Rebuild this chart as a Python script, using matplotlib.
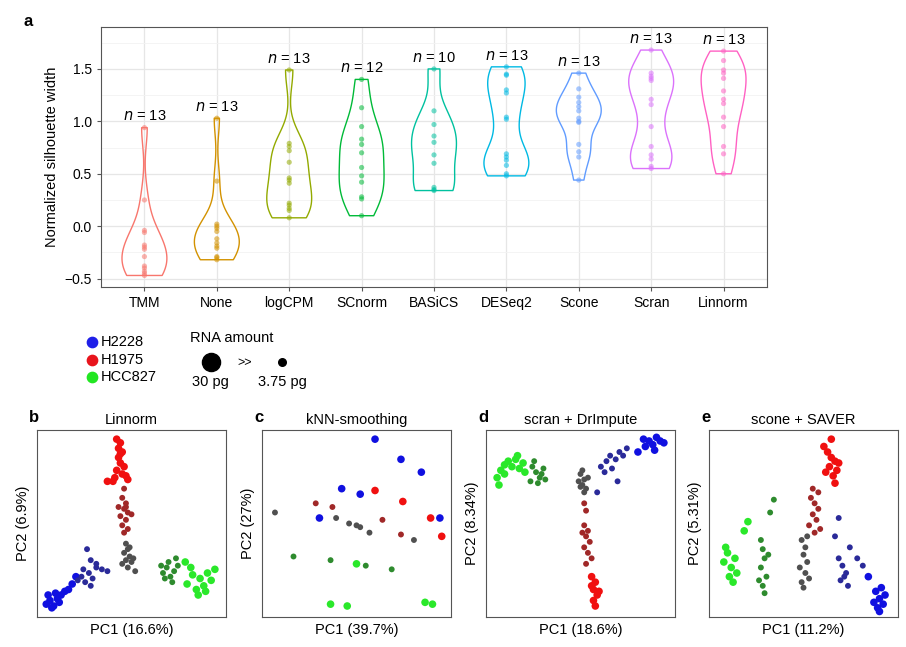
import matplotlib
matplotlib.use("Agg")
import matplotlib.pyplot as plt
import numpy as np

plt.rcParams['font.family'] = ['Liberation Sans', 'DejaVu Sans']

methods = ["TMM", "None", "logCPM", "SCnorm", "BASiCS", "DESeq2", "Scone", "Scran", "Linnorm"]
colors = ["#F8766D", "#D39200", "#93AA00", "#00BA38", "#00C19F", "#00B9E3", "#619CFF", "#DB72FB", "#FF61C3"]
values = [
    [0.94, 0.25, -0.04, -0.06, -0.18, -0.20, -0.22, -0.29, -0.38, -0.40, -0.45, -0.47, -0.43],
    [1.03, 0.43, 0.02, 0.00, -0.02, -0.05, -0.12, -0.16, -0.19, -0.21, -0.29, -0.30, -0.32],
    [1.49, 0.79, 0.76, 0.72, 0.61, 0.46, 0.44, 0.41, 0.22, 0.20, 0.17, 0.15, 0.08],
    [1.40, 1.13, 0.95, 0.83, 0.78, 0.70, 0.56, 0.48, 0.42, 0.28, 0.26, 0.10],
    [1.50, 1.10, 0.97, 0.86, 0.80, 0.68, 0.60, 0.37, 0.35, 0.34],
    [1.52, 1.45, 1.44, 1.30, 1.27, 1.04, 1.02, 0.69, 0.66, 0.63, 0.58, 0.50, 0.48],
    [1.46, 1.31, 1.23, 1.18, 1.14, 1.10, 1.03, 1.00, 0.99, 0.78, 0.71, 0.66, 0.44],
    [1.68, 1.46, 1.43, 1.41, 1.39, 1.21, 1.16, 0.95, 0.76, 0.68, 0.64, 0.57, 0.55],
    [1.67, 1.58, 1.49, 1.46, 1.41, 1.29, 1.21, 1.17, 1.04, 0.95, 0.76, 0.69, 0.50],
]

W, H = 906, 647
fig = plt.figure(figsize=(W/100, H/100), dpi=100)

def rect(x0, y0, x1, y1):
    return [x0/W, 1-y1/H, (x1-x0)/W, (y1-y0)/H]

ax = fig.add_axes(rect(101, 27, 767, 287))
pos = np.arange(1, len(methods)+1)
vp = ax.violinplot(values, positions=pos, widths=0.62, showextrema=False, bw_method=0.45)
for b, c in zip(vp['bodies'], colors):
    b.set_facecolor('none'); b.set_edgecolor(c); b.set_alpha(1); b.set_linewidth(1.0)
for p, v, c in zip(pos, values, colors):
    ax.scatter([p]*len(v), v, s=14, color=c, alpha=0.55, edgecolor='none', zorder=3)
    ax.text(p, max(v)+0.04, f"$n$ = {len(v)}", ha='center', va='bottom', fontsize=10.5)
ax.set_xlim(0.4, 9.6)
ax.set_ylim(-0.58, 1.9)
ax.set_xticks(pos); ax.set_xticklabels(methods, fontsize=10)
ax.set_yticks([-0.5, 0, 0.5, 1.0, 1.5]); ax.set_yticklabels(["−0.5", "0.0", "0.5", "1.0", "1.5"], fontsize=10)
ax.set_yticks([-0.25, 0.25, 0.75, 1.25, 1.75], minor=True)
ax.grid(True, which='major', color='#e6e6e6', lw=0.9)
ax.grid(True, which='minor', axis='y', color='#f2f2f2', lw=0.6)
ax.tick_params(which='minor', length=0)
ax.tick_params(length=3, color='#555555')
ax.set_axisbelow(True)
for s in ax.spines.values(): s.set_color('#555555')
ax.set_ylabel("Normalized silhouette width", fontsize=10.5)
fig.text(24/W, 1-22/H, "a", fontsize=12, fontweight='bold', va='center')

# legend area
lax = fig.add_axes([0, 0, 1, 1]); lax.set_xlim(0, W); lax.set_ylim(H, 0); lax.axis('off')
cell_lines = ["H2228", "H1975", "HCC827"]
cell_colors = ["#1f1fe8", "#e8141c", "#22e622"]
for i, (n, c) in enumerate(zip(cell_lines, cell_colors)):
    y = 342 + i*17.5
    lax.scatter([92], [y], s=55, color=c)
    lax.text(101, y, n, fontsize=10.5, va='center')
lax.text(190, 338, "RNA amount", fontsize=10.5, va='center')
lax.scatter([211], [362], s=170, color='black')
lax.text(245, 363, ">>", fontsize=9, va='center', ha='center')
lax.scatter([282], [362], s=30, color='black')
lax.text(210, 382, "30 pg", fontsize=10.5, va='center', ha='center')
lax.text(282, 382, "3.75 pg", fontsize=10.5, va='center', ha='center')

C = {"B": "#1010e0", "b": "#2a2a99", "R": "#f01010", "r": "#a02828", "G": "#2ae82a", "g": "#2e8b2e", "k": "#505050"}

panel_b = {
 "R": [(0.41,0.95),(0.43,0.93),(0.42,0.90),(0.44,0.88),(0.42,0.85),(0.43,0.82),(0.45,0.80),(0.41,0.78),(0.44,0.76),(0.40,0.74),(0.46,0.75),(0.43,0.87),(0.36,0.72),(0.39,0.72),(0.47,0.73)],
 "r": [(0.45,0.68),(0.44,0.63),(0.46,0.60),(0.45,0.57),(0.47,0.55),(0.43,0.53),(0.46,0.51),(0.44,0.48),(0.47,0.46),(0.45,0.44),(0.46,0.58),(0.49,0.54),(0.42,0.58)],
 "k": [(0.46,0.38),(0.47,0.35),(0.45,0.33),(0.48,0.31),(0.46,0.29),(0.49,0.28),(0.44,0.27),(0.47,0.25),(0.50,0.30),(0.48,0.36),(0.51,0.23)],
 "B": [(0.03,0.05),(0.05,0.07),(0.07,0.04),(0.09,0.08),(0.04,0.10),(0.11,0.10),(0.13,0.12),(0.06,0.03),(0.08,0.11),(0.15,0.13),(0.10,0.06),(0.17,0.16),(0.19,0.20)],
 "b": [(0.20,0.18),(0.22,0.20),(0.24,0.17),(0.26,0.22),(0.28,0.19),(0.23,0.24),(0.30,0.25),(0.27,0.15),(0.33,0.24),(0.36,0.23),(0.27,0.29),(0.25,0.35),(0.30,0.27)],
 "g": [(0.66,0.22),(0.68,0.25),(0.70,0.20),(0.72,0.23),(0.69,0.28),(0.74,0.26),(0.71,0.17),(0.67,0.19),(0.73,0.30),(0.65,0.26)],
 "G": [(0.79,0.16),(0.82,0.21),(0.84,0.13),(0.86,0.19),(0.88,0.15),(0.90,0.22),(0.92,0.18),(0.85,0.10),(0.81,0.25),(0.89,0.12),(0.94,0.24),(0.78,0.28)],
}
panel_c = {
 "B": [(0.59,0.95),(0.73,0.84),(0.84,0.77),(0.41,0.68),(0.51,0.65),(0.29,0.52),(0.94,0.52)],
 "R": [(0.59,0.67),(0.74,0.61),(0.89,0.52),(0.95,0.42)],
 "r": [(0.27,0.60),(0.36,0.58),(0.63,0.51),(0.73,0.43)],
 "k": [(0.05,0.55),(0.38,0.52),(0.45,0.49),(0.49,0.48),(0.51,0.47),(0.56,0.44),(0.80,0.40)],
 "g": [(0.15,0.31),(0.35,0.29),(0.54,0.26),(0.68,0.24)],
 "G": [(0.49,0.27),(0.35,0.05),(0.44,0.04),(0.86,0.06),(0.90,0.05)],
}
panel_d = {
 "G": [(0.04,0.74),(0.06,0.78),(0.08,0.81),(0.10,0.83),(0.12,0.80),(0.14,0.84),(0.16,0.79),(0.18,0.82),(0.08,0.76),(0.19,0.77),(0.05,0.70),(0.15,0.86)],
 "g": [(0.23,0.80),(0.25,0.77),(0.27,0.74),(0.29,0.79),(0.26,0.71),(0.30,0.73),(0.24,0.83),(0.22,0.72),(0.28,0.76)],
 "k": [(0.49,0.76),(0.51,0.73),(0.50,0.70),(0.52,0.68),(0.48,0.72),(0.53,0.74),(0.50,0.78),(0.51,0.66),(0.49,0.69)],
 "b": [(0.60,0.80),(0.63,0.83),(0.65,0.86),(0.68,0.84),(0.70,0.88),(0.72,0.86),(0.66,0.79),(0.74,0.90),(0.62,0.77),(0.69,0.72),(0.58,0.66)],
 "B": [(0.84,0.91),(0.86,0.94),(0.88,0.92),(0.90,0.96),(0.92,0.94),(0.94,0.93),(0.89,0.89),(0.83,0.95),(0.80,0.88)],
 "r": [(0.51,0.48),(0.53,0.45),(0.52,0.42),(0.54,0.39),(0.51,0.36),(0.53,0.33),(0.55,0.30),(0.52,0.27),(0.50,0.44),(0.52,0.56),(0.51,0.60)],
 "R": [(0.55,0.20),(0.57,0.17),(0.56,0.13),(0.58,0.10),(0.56,0.07),(0.57,0.04),(0.55,0.15),(0.59,0.12)],
}
panel_e = {
 "R": [(0.62,0.88),(0.64,0.85),(0.66,0.83),(0.63,0.80),(0.67,0.78),(0.65,0.75),(0.68,0.82),(0.61,0.77),(0.66,0.71),(0.60,0.91),(0.64,0.95)],
 "r": [(0.53,0.63),(0.55,0.60),(0.57,0.57),(0.54,0.54),(0.56,0.51),(0.52,0.48),(0.58,0.46),(0.55,0.44),(0.57,0.66),(0.54,0.68)],
 "k": [(0.48,0.40),(0.50,0.36),(0.49,0.32),(0.51,0.28),(0.47,0.25),(0.50,0.22),(0.52,0.19),(0.48,0.17),(0.51,0.42),(0.49,0.14)],
 "G": [(0.06,0.28),(0.08,0.33),(0.10,0.25),(0.12,0.30),(0.09,0.20),(0.11,0.17),(0.07,0.36),(0.13,0.22),(0.17,0.45),(0.19,0.50)],
 "g": [(0.26,0.40),(0.27,0.35),(0.28,0.30),(0.26,0.25),(0.29,0.20),(0.27,0.15),(0.28,0.11),(0.30,0.32),(0.25,0.18),(0.31,0.55),(0.33,0.62)],
 "b": [(0.68,0.30),(0.70,0.26),(0.72,0.22),(0.69,0.18),(0.73,0.15),(0.71,0.20),(0.66,0.42),(0.74,0.36),(0.78,0.30),(0.68,0.52),(0.81,0.26)],
 "B": [(0.88,0.12),(0.90,0.08),(0.92,0.05),(0.89,0.03),(0.93,0.10),(0.91,0.14),(0.84,0.20),(0.87,0.06),(0.90,0.01)],
}
sizes = {"B": 30, "R": 30, "G": 30, "b": 18, "r": 18, "g": 18, "k": 18}

panels = [("b", "Linnorm", "PC1 (16.6%)", "PC2 (6.9%)", 37, panel_b),
          ("c", "kNN-smoothing", "PC1 (39.7%)", "PC2 (27%)", 262, panel_c),
          ("d", "scran + DrImpute", "PC1 (18.6%)", "PC2 (8.34%)", 486, panel_d),
          ("e", "scone + SAVER", "PC1 (11.2%)", "PC2 (5.31%)", 709, panel_e)]
for lab, title, xl, yl, x0, data in panels:
    a = fig.add_axes(rect(x0, 430, x0+189, 617))
    for k, pts in data.items():
        xs = [p[0] for p in pts]; ys = [p[1] for p in pts]
        a.scatter(xs, ys, s=sizes[k], color=C[k], edgecolor='none')
    a.set_xlim(-0.02, 1.0); a.set_ylim(-0.02, 1.0)
    a.set_xticks([]); a.set_yticks([])
    for s in a.spines.values(): s.set_color('#555555')
    a.set_title(title, fontsize=10.5, pad=4)
    a.set_xlabel(xl, fontsize=10.5, labelpad=4)
    a.set_ylabel(yl, fontsize=10.5, labelpad=5)
    fig.text((x0-8)/W, 1-417/H, lab, fontsize=12, fontweight='bold', va='center')

fig.savefig("out.png", dpi=100)
